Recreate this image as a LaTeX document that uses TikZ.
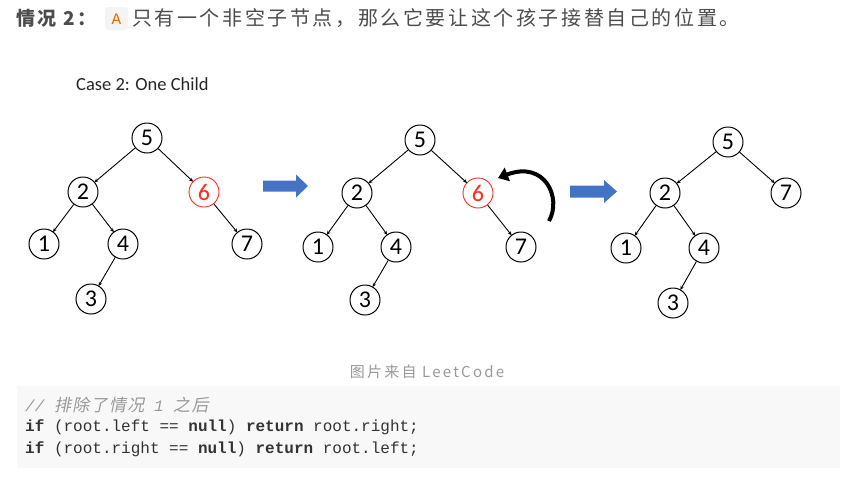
\documentclass[tikz,border=0pt]{standalone}
\usepackage{fontspec}
\usetikzlibrary{arrows.meta}
\newfontfamily\cjk[LetterSpace=13]{Noto Sans CJK SC}
\newfontfamily\capfont[LetterSpace=15]{Noto Sans CJK SC}
\newfontfamily\cjkit[FakeSlant=0.2,LetterSpace=8]{Noto Sans CJK SC}
\newfontfamily\calib{Carlito}
\newfontfamily\codefont{Liberation Mono}
\definecolor{headc}{HTML}{4D4D4D}
\definecolor{codec}{HTML}{333333}
\definecolor{commc}{HTML}{999999}
\definecolor{codebg}{HTML}{F8F8F8}
\definecolor{inlbg}{HTML}{F3F4F4}
\definecolor{inlfg}{HTML}{E96900}
\definecolor{arrblue}{HTML}{4472C4}
\definecolor{delred}{HTML}{FF2A1A}
\begin{document}
\begin{tikzpicture}[x=1pt,y=-1pt,
  tnode/.style={circle,draw=black,line width=1pt,minimum size=30pt,inner sep=0pt,fill=white,font=\calib\fontsize{24}{24}\selectfont},
  rednode/.style={tnode,draw=delred,text=delred,line width=0.9pt},
  edge/.style={line width=0.9pt,-{Stealth[length=4pt,width=3.5pt]},shorten >=-0.5pt},
  blue arrow/.style={fill=arrblue,draw=none},
  codeline/.style={anchor=west,inner sep=0pt,text=codec,font=\codefont\fontsize{16}{16}\selectfont}]
\useasboundingbox (0,0) rectangle (860,480);
\fill[white] (0,0) rectangle (860,480);
% heading
\node[anchor=west,inner sep=0pt,text=headc,font=\cjk\bfseries\fontsize{19}{19}\selectfont] (h1) at (16,18) {情况 2：};
\fill[inlbg,rounded corners=3pt] (105,7) rectangle (128,30);
\node[inner sep=0pt,text=inlfg,font=\codefont\fontsize{16}{16}\selectfont] (hA) at (116.5,19) {A};
\node[anchor=west,inner sep=0pt,text=headc,font=\cjk\fontsize{20}{20}\selectfont] (h2) at (132,18) {只有一个非空子节点，那么它要让这个孩子接替自己的位置。};
% case title
\node[anchor=west,inner sep=0pt,font=\calib\fontsize{18.5}{18.5}\selectfont,text=black!85] (title) at (76,84) {Case 2: One Child};
% tree 1
\node[tnode] (a5) at (147,138) {5};
\node[tnode] (a2) at (83,192) {2};
\node[rednode] (a6) at (204,192) {6};
\node[tnode] (a1) at (44,244) {1};
\node[tnode] (a4) at (123,244) {4};
\node[tnode] (a7) at (247,244) {7};
\node[tnode] (a3) at (91,299) {3};
\draw[edge] (a5) -- (a2);
\draw[edge] (a5) -- (a6);
\draw[edge] (a2) -- (a1);
\draw[edge] (a2) -- (a4);
\draw[edge] (a4) -- (a3);
\draw[edge] (a6) -- (a7);
% arrow 1
\fill[blue arrow] (263,180.5) -- (296,180.5) -- (296,174.5) -- (308,186) -- (296,197.5) -- (296,191.5) -- (263,191.5) -- cycle;
% tree 2
\node[tnode] (b5) at (420,140) {5};
\node[tnode] (b2) at (357,193) {2};
\node[rednode] (b6) at (478,193) {6};
\node[tnode] (b1) at (318,247) {1};
\node[tnode] (b4) at (396,247) {4};
\node[tnode] (b7) at (521,247) {7};
\node[tnode] (b3) at (365,300) {3};
\draw[edge] (b5) -- (b2);
\draw[edge] (b5) -- (b6);
\draw[edge] (b2) -- (b1);
\draw[edge] (b2) -- (b4);
\draw[edge] (b4) -- (b3);
\draw[edge] (b6) -- (b7);
\coordinate (rs) at (549,221);
\coordinate (re) at (498,178);
\draw[line width=4pt,-{Triangle[length=10pt,width=14pt]}] (rs) .. controls (562,198) and (545,160) .. (re);
% arrow 2
\fill[blue arrow] (570,185.5) -- (604,185.5) -- (604,180) -- (617,191.5) -- (604,203) -- (604,197.5) -- (570,197.5) -- cycle;
% tree 3
\node[tnode] (c5) at (728,142) {5};
\node[tnode] (c2) at (665,193) {2};
\node[tnode] (c7) at (786,193) {7};
\node[tnode] (c1) at (626,248) {1};
\node[tnode] (c4) at (704,248) {4};
\node[tnode] (c3) at (673,303) {3};
\draw[edge] (c5) -- (c2);
\draw[edge] (c5) -- (c7);
\draw[edge] (c2) -- (c1);
\draw[edge] (c2) -- (c4);
\draw[edge] (c4) -- (c3);
% caption
\node[inner sep=0pt,text=commc,font=\capfont\fontsize{15}{15}\selectfont] (cap) at (427,372) {图片来自 LeetCode};
% code block
\fill[codebg] (17,386) rectangle (840,468);
\node[codeline,text=commc] (l0) at (25,405) {\itshape // {\cjkit\fontsize{17}{17}\selectfont 排除了情况} 1 {\cjkit\fontsize{17}{17}\selectfont 之后}};
\node[codeline] (l1) at (25,427) {\textbf{if} (root.left == \textbf{null}) \textbf{return} root.right;};
\node[codeline] (l2) at (25,449) {\textbf{if} (root.right == \textbf{null}) \textbf{return} root.left;};
\end{tikzpicture}
\end{document}
